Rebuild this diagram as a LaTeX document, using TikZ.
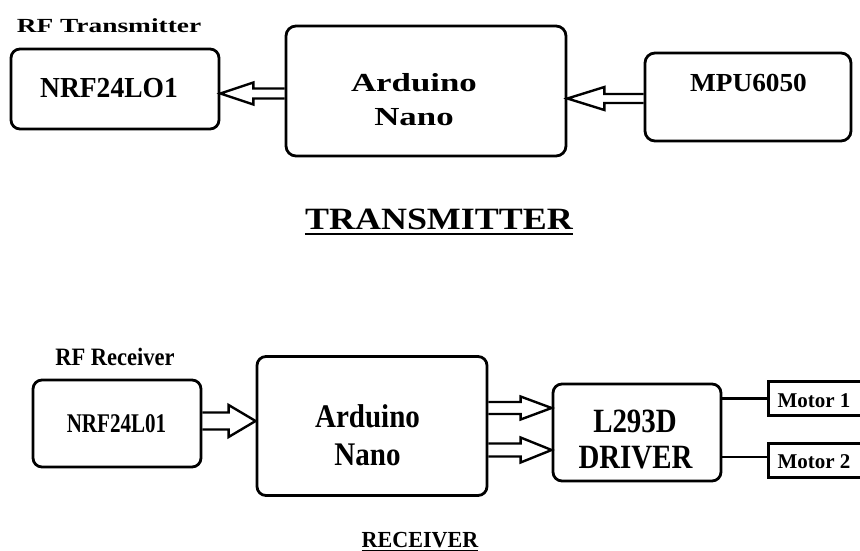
\documentclass[tikz,border=0pt]{standalone}
\usepackage{fontspec}
\setmainfont{Liberation Serif}
\usetikzlibrary{calc}

\newcommand{\wide}[2]{\scalebox{#1}[1]{#2}}
\newcommand{\fs}[1]{\fontsize{#1}{#1}\selectfont}

\tikzset{
  blk/.style={draw, line width=2.8pt, rounded corners=9pt, inner sep=0pt},
  mbox/.style={draw, line width=2.6pt, inner sep=0pt, anchor=west,
    minimum width=130pt, minimum height=34pt},
  txt/.style={anchor=base, inner sep=0pt, font=\bfseries},
  arr/.style={line width=2.4pt, line join=miter},
  hollow/.style n args={3}{to path={
    let \p1=(\tikztostart), \p2=(\tikztotarget),
        \p3=($(\x2,\y1)!#3!(\x1,\y1)$) in
    (\x1,\y1+#1) -- (\x3,\y1+#1) -- (\x3,\y1+#2) -- (\x2,\y1)
    -- (\x3,\y1-#2) -- (\x3,\y1-#1) -- (\x1,\y1-#1)}}
}

\begin{document}
\begin{tikzpicture}[x=1pt,y=-1pt]
\useasboundingbox[fill=white] (0,0) rectangle (860,551);

% transmitter
\node[txt] (rftx) at (109,33) {\fs{20}\wide{1.37}{RF Transmitter}};
\node[blk, minimum width=208pt, minimum height=80pt] (nrfT) at (115,89) {};
\node[txt] (nrfTtxt) at (109,97) {\fs{29}\wide{0.95}{NRF24LO1}};
\node[blk, minimum width=280pt, minimum height=130pt, rounded corners=10pt] (ardT) at (426,91) {};
\node[txt] (ardTa) at (414,92) {\fs{26}\wide{1.34}{Arduino}};
\node[txt] (ardTb) at (414,125) {\fs{26}\wide{1.34}{Nano}};
\node[blk, minimum width=206pt, minimum height=88pt, rounded corners=10pt] (mpu) at (748,97) {};
\node[txt] (mputxt) at (748.5,92) {\fs{26}\wide{1.05}{MPU6050}};

\draw[arr] ([yshift=-2.5pt]ardT.west) to[hollow={5pt}{11pt}{33pt}] (nrfT.east);
\draw[arr] ([yshift=-1.5pt]mpu.west) to[hollow={4.5pt}{11.5pt}{37pt}] (ardT.east);

\node[txt, inner xsep=0pt] (ttlT) at (439,229) {\fs{31}\wide{1.16}{TRANSMITTER}};
\draw[line width=2.6pt] ([yshift=-5pt]ttlT.base west) -- ([yshift=-5pt]ttlT.base east);

% receiver
\node[txt] (rfrx) at (115,365) {\fs{25}\wide{0.9}{RF Receiver}};
\node[blk, minimum width=168pt, minimum height=87pt] (nrfR) at (117,423.5) {};
\node[txt] (nrfRtxt) at (116.5,432) {\fs{27}\wide{0.78}{NRF24L01}};
\node[blk, minimum width=230pt, minimum height=139pt] (ardR) at (372,426) {};
\node[txt] (ardRa) at (367.5,427) {\fs{33}\wide{0.88}{Arduino}};
\node[txt] (ardRb) at (367.5,465) {\fs{33}\wide{0.88}{Nano}};
\node[blk, minimum width=168pt, minimum height=97pt] (drv) at (637,432.5) {};
\node[txt] (drva) at (635,432) {\fs{34}\wide{0.85}{L293D}};
\node[txt] (drvb) at (635.5,468) {\fs{34}\wide{0.85}{DRIVER}};
\node[mbox] (mot1) at (767,398.5) {};
\node[txt] (mot1txt) at (814,407) {\fs{21}Motor 1};
\node[mbox] (mot2) at (767,460.5) {};
\node[txt] (mot2txt) at (814,468) {\fs{21}Motor 2};

\draw[arr] ([yshift=2.5pt]nrfR.east) to[hollow={8.5pt}{16pt}{27pt}] (ardR.west);
\draw[arr] ([yshift=18pt]ardR.east) to[hollow={6pt}{11.5pt}{31pt}] (drv.west);
\draw[arr] ([yshift=-24pt]ardR.east) to[hollow={6.5pt}{12.5pt}{31pt}] (drv.west);

\coordinate (m2in) at ([yshift=3.5pt]mot2.west);
\draw[arr] (mot1.west -| drv.east) -- (mot1.west);
\draw[arr] (m2in -| drv.east) -- (m2in);

\node[txt, inner xsep=0pt] (ttlR) at (420,547) {\fs{23}\wide{0.96}{RECEIVER}};
\draw[line width=1.8pt] ([yshift=-3.5pt]ttlR.base west) -- ([yshift=-3.5pt]ttlR.base east);
\end{tikzpicture}
\end{document}
